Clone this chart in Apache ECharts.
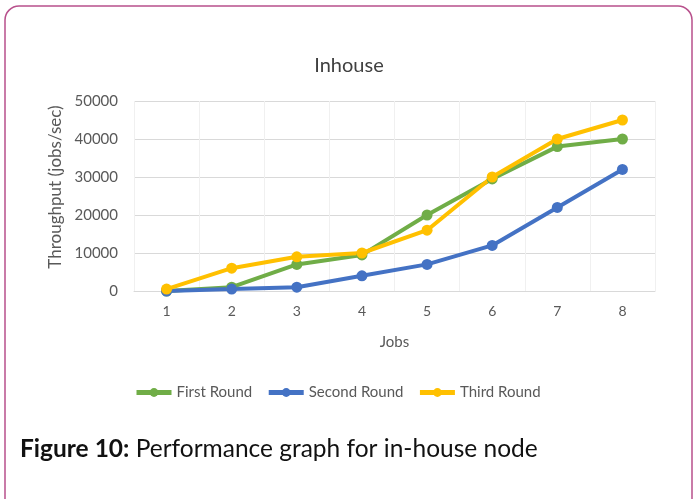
<!DOCTYPE html>
<html lang="en">
<head>
    <meta charset="UTF-8">
    <title>Inhouse</title>
    <style>
        html, body { margin: 0; padding: 0; background: #fff; }
        #chart { width: 694px; height: 499px; }
    </style>
</head>
<body>
    <div id="chart"></div>
    <script src="https://cdn.jsdelivr.net/npm/echarts@6/dist/echarts.min.js"></script>
    <script>
        // 数据
        var jobs = ['1', '2', '3', '4', '5', '6', '7', '8'];
        var firstRound = [0, 1000, 7000, 9500, 20000, 29500, 38000, 40000];
        var secondRound = [0, 500, 1000, 4000, 7000, 12000, 22000, 32000];
        var thirdRound = [500, 6000, 9000, 10000, 16000, 30000, 40000, 45000];
        var yTicks = [0, 10000, 20000, 30000, 40000, 50000];

        var font = 'Lato';
        var grey = '#595959';
        var myChart = echarts.init(document.getElementById('chart'));

        var makeSeries = function (name, data, color) {
            return {
                name: name,
                type: 'line',
                data: data,
                symbol: 'circle',
                symbolSize: 11,
                lineStyle: { color: color, width: 4 },
                itemStyle: { color: color },
                z: 3
            };
        };

        var option = {
            animation: false,
            backgroundColor: '#fff',
            title: {
                text: 'Inhouse',
                left: 344,
                top: 51,
                textAlign: 'center',
                textStyle: { fontFamily: font, fontSize: 20, fontWeight: 'normal', color: '#404040' }
            },
            legend: {
                left: 129,
                top: 380,
                itemWidth: 35,
                itemHeight: 11,
                itemGap: 14,
                lineStyle: { width: 5 },
                textStyle: { fontFamily: font, fontSize: 15, color: grey },
                data: ['First Round', 'Second Round', 'Third Round']
            },
            grid: {
                left: 134,
                right: 39,
                top: 101,
                bottom: 208
            },
            xAxis: {
                type: 'category',
                data: jobs,
                boundaryGap: true,
                name: 'Jobs',
                nameLocation: 'middle',
                nameGap: 44,
                nameTextStyle: { fontFamily: font, fontSize: 15, color: grey },
                axisLine: { show: true, lineStyle: { color: '#d9d9d9' } },
                axisTick: { show: false },
                axisLabel: { fontFamily: font, fontSize: 14, color: grey, margin: 13 },
                splitLine: { show: true, lineStyle: { color: '#f0f0f0' } }
            },
            yAxis: {
                type: 'value',
                min: yTicks[0],
                max: yTicks[yTicks.length - 1],
                interval: 10000,
                name: 'Throughput (jobs/sec)',
                nameLocation: 'middle',
                nameGap: 67,
                nameTextStyle: { fontFamily: font, fontSize: 17, color: grey, padding: [0, 0, 0, 18] },
                axisLine: { show: false },
                axisTick: { show: false },
                axisLabel: {
                    fontFamily: font, fontSize: 15, color: grey, margin: 16,
                    formatter: function (v) { return String(v); }
                },
                splitLine: { lineStyle: { color: '#d9d9d9' } }
            },
            series: [
                makeSeries('First Round', firstRound, '#70ad47'),
                makeSeries('Second Round', secondRound, '#4472c4'),
                makeSeries('Third Round', thirdRound, '#ffc000')
            ],
            graphic: [{
                // 外框
                type: 'rect',
                shape: { x: 5, y: 6, width: 687, height: 520, r: 14 },
                style: { fill: 'none', stroke: '#b8508c', lineWidth: 1.5 },
                silent: true
            }, {
                type: 'text',
                left: 20,
                top: 437,
                style: {
                    text: '{b|Figure 10:} Performance graph for in-house node',
                    font: '24.5px Lato',
                    fill: '#111',
                    rich: {
                        b: { fontFamily: font, fontSize: 24.5, fontWeight: 'bold', fill: '#111' }
                    }
                }
            }]
        };

        myChart.setOption(option);
    </script>
</body>
</html>
